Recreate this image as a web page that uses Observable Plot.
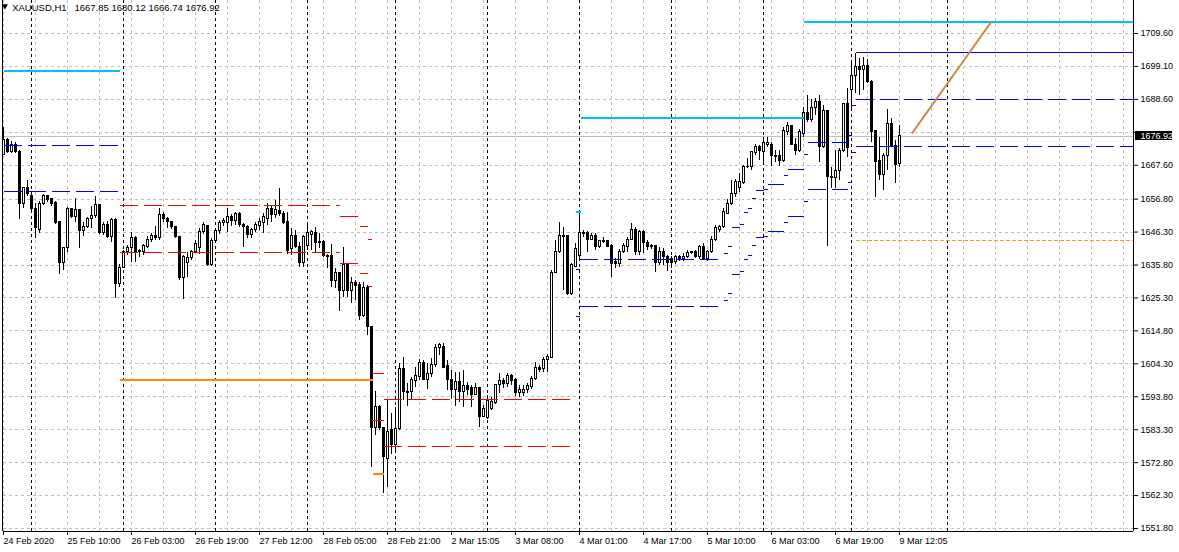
<!DOCTYPE html>
<html><head><meta charset="utf-8">
<script src="https://cdn.jsdelivr.net/npm/d3@7"></script>
<script src="https://cdn.jsdelivr.net/npm/@observablehq/plot@0.6"></script>
<style>
html,body{margin:0;padding:0;background:#fff;}
#chart{width:1179px;height:552px;overflow:hidden;}
svg{display:block;}
</style></head><body><div id="chart"></div>
<script>
// ---- header ----
const symbolTitle = "XAUUSD,H1";
const headerOHLC = ["1667.85", "1680.12", "1666.74", "1676.92"];
const currentPrice = 1676.92;

// ---- H1 candles (bar index = position) ----
const open = [1671.0,1675.8,1671.7,1674.2,1671.7,1655.4,1660.2,1657.7,1653.8,1647.1,1655.1,1657.7,1656.7,1655.7,1649.4,1636.6,1641.1,1653.5,1651.0,1653.2,1646.5,1647.8,1650.6,1651.3,1654.8,1645.9,1648.7,1644.6,1650.0,1629.6,1635.0,1639.8,1641.1,1644.3,1640.4,1640.1,1641.7,1643.9,1645.2,1644.3,1651.6,1650.6,1649.4,1647.8,1644.6,1631.8,1636.6,1637.9,1639.8,1641.1,1646.2,1648.1,1635.7,1643.6,1646.5,1649.1,1649.1,1651.0,1649.7,1652.2,1648.4,1647.8,1645.5,1647.1,1648.1,1649.1,1650.6,1653.5,1651.9,1652.9,1652.2,1649.4,1640.8,1645.2,1641.4,1636.3,1642.0,1645.5,1645.9,1643.0,1643.0,1638.8,1638.8,1630.6,1633.1,1627.4,1635.7,1627.4,1630.2,1629.3,1619.4,1628.6,1615.9,1583.7,1590.4,1583.7,1574.1,1583.1,1578.3,1583.4,1602.8,1595.2,1595.2,1598.7,1600.0,1604.7,1599.3,1601.2,1603.8,1609.5,1609.8,1603.5,1599.3,1595.8,1598.4,1595.2,1597.1,1596.5,1594.5,1596.5,1587.5,1586.9,1589.8,1591.7,1597.4,1598.7,1598.0,1600.3,1599.0,1594.9,1594.9,1595.8,1596.8,1599.6,1603.1,1602.5,1605.4,1606.3,1633.4,1639.8,1645.2,1644.9,1626.4,1635.3,1638.8,1645.9,1645.9,1643.9,1645.2,1641.7,1643.0,1643.3,1642.0,1636.6,1636.0,1639.8,1641.7,1643.9,1647.1,1640.1,1646.2,1642.7,1641.4,1641.7,1636.3,1640.1,1638.2,1637.6,1636.9,1638.2,1637.6,1638.2,1639.5,1639.8,1638.2,1641.4,1637.6,1639.8,1643.9,1647.1,1647.8,1652.2,1655.1,1658.3,1660.2,1661.8,1667.2,1667.2,1671.4,1673.3,1671.7,1674.2,1674.2,1670.7,1670.4,1669.1,1678.1,1680.0,1674.2,1672.0,1677.7,1684.4,1681.9,1686.0,1687.9,1673.3,1684.8,1664.0,1663.4,1665.9,1672.3,1687.0,1691.7,1695.9,1698.8,1698.1,1699.1,1694.0,1678.4,1668.8,1664.4,1670.7,1680.9,1673.6,1667.85];
const high = [1679.6,1676.1,1675.2,1674.9,1672.3,1660.5,1662.8,1658.0,1655.4,1656.1,1658.3,1658.0,1657.0,1656.1,1649.7,1641.4,1654.1,1653.8,1657.0,1653.5,1649.4,1651.0,1654.5,1657.7,1655.1,1649.4,1649.7,1650.6,1650.6,1636.0,1640.4,1642.0,1646.2,1644.9,1640.8,1642.4,1644.9,1645.9,1648.1,1653.8,1652.6,1651.0,1649.7,1648.1,1644.9,1638.8,1639.8,1640.4,1643.6,1647.5,1649.4,1648.4,1644.3,1647.5,1650.0,1650.6,1653.8,1651.9,1652.6,1652.6,1649.1,1648.4,1647.4,1649.4,1650.6,1652.2,1655.4,1654.8,1656.4,1660.2,1652.9,1652.6,1647.5,1646.8,1643.0,1645.2,1649.1,1646.8,1647.8,1645.9,1643.6,1639.2,1642.4,1634.7,1633.4,1641.4,1636.0,1631.8,1630.9,1630.2,1630.2,1629.3,1616.3,1595.5,1591.0,1584.0,1592.9,1588.5,1590.4,1604.4,1606.3,1598.0,1600.0,1603.1,1605.6,1605.4,1604.4,1606.0,1610.5,1610.8,1610.8,1605.4,1602.2,1601.5,1601.5,1602.2,1598.4,1597.4,1598.0,1596.8,1591.0,1594.2,1593.6,1597.7,1601.2,1599.6,1601.2,1600.9,1599.6,1597.4,1597.4,1598.0,1600.3,1604.7,1603.8,1606.3,1607.3,1634.1,1643.6,1649.4,1647.8,1645.2,1636.3,1642.7,1652.6,1646.8,1646.5,1645.9,1645.9,1643.6,1644.6,1643.6,1642.4,1637.9,1640.8,1642.7,1644.6,1649.1,1647.8,1646.8,1646.8,1643.6,1642.4,1642.0,1641.4,1641.1,1638.8,1638.5,1638.8,1638.8,1639.5,1640.4,1640.1,1640.4,1642.0,1642.7,1640.4,1644.9,1648.4,1648.4,1653.8,1656.7,1662.8,1663.1,1665.0,1667.5,1669.8,1672.0,1674.2,1673.9,1676.5,1676.5,1674.9,1672.3,1672.3,1679.6,1681.2,1680.3,1676.1,1679.0,1686.0,1689.9,1688.6,1688.9,1689.9,1686.6,1685.1,1666.9,1672.3,1673.0,1687.4,1692.0,1699.9,1703.2,1701.6,1702.1,1701.2,1694.6,1678.5,1676.6,1671.3,1685.3,1682.4,1675.5,1680.12];
const low = [1670.7,1671.4,1671.4,1671.4,1650.3,1653.8,1657.7,1653.2,1644.3,1645.9,1654.8,1655.7,1654.5,1648.7,1632.8,1634.1,1639.8,1650.6,1649.4,1641.1,1644.9,1647.5,1647.5,1650.6,1645.5,1645.2,1644.3,1643.0,1625.1,1628.6,1634.7,1638.8,1636.6,1636.6,1638.2,1638.8,1641.1,1643.0,1643.6,1643.6,1649.4,1647.5,1647.1,1644.3,1630.9,1624.8,1631.8,1637.3,1639.5,1639.2,1645.5,1635.3,1635.3,1643.0,1645.5,1648.1,1646.2,1648.1,1648.4,1647.8,1641.4,1644.3,1644.3,1646.2,1646.8,1645.9,1648.4,1649.4,1650.6,1651.3,1648.7,1639.2,1638.8,1641.1,1635.0,1635.0,1640.4,1640.4,1639.8,1641.1,1638.2,1634.7,1628.6,1628.3,1621.0,1625.4,1625.4,1623.5,1624.5,1618.1,1619.1,1613.3,1571.3,1581.5,1583.1,1563.0,1564.8,1575.4,1575.7,1583.1,1592.6,1590.7,1592.6,1596.8,1599.0,1599.0,1596.1,1600.0,1603.1,1607.0,1602.8,1595.8,1592.9,1590.7,1592.0,1590.4,1594.2,1590.4,1594.2,1584.0,1587.2,1586.6,1589.4,1591.3,1594.9,1596.5,1596.8,1597.4,1593.9,1593.6,1593.9,1594.9,1596.1,1599.0,1601.5,1601.5,1601.5,1606.0,1633.1,1639.5,1627.7,1626.1,1626.1,1635.0,1637.9,1644.6,1639.8,1643.6,1640.4,1641.1,1642.7,1641.4,1631.8,1634.7,1635.0,1639.5,1639.8,1643.6,1638.8,1638.8,1639.5,1640.4,1640.8,1633.4,1635.7,1635.7,1633.7,1634.7,1636.0,1636.9,1636.9,1637.9,1639.2,1637.9,1637.6,1637.3,1636.9,1639.5,1643.3,1646.2,1647.5,1651.9,1654.8,1657.3,1658.9,1661.5,1666.6,1665.9,1670.7,1669.1,1668.5,1673.3,1667.2,1668.5,1667.2,1668.5,1677.1,1673.9,1670.7,1671.7,1676.5,1681.2,1681.2,1683.5,1668.5,1673.0,1641.7,1660.2,1660.2,1662.8,1671.8,1670.2,1685.7,1690.5,1689.9,1691.4,1693.6,1674.7,1657.2,1662.8,1659.6,1665.9,1673.4,1661.7,1666.74];
const close = [1675.8,1671.7,1674.2,1671.7,1655.4,1660.2,1658.3,1653.5,1647.5,1655.1,1657.7,1656.4,1655.4,1649.1,1636.6,1641.1,1653.5,1651.0,1653.2,1646.5,1647.8,1650.6,1651.3,1654.8,1645.9,1648.7,1644.6,1650.0,1629.6,1635.0,1639.8,1641.1,1644.3,1639.8,1639.8,1641.7,1643.9,1645.2,1644.3,1651.6,1650.6,1649.4,1647.8,1644.6,1631.8,1638.2,1637.9,1639.8,1642.4,1646.2,1648.4,1635.7,1643.6,1646.5,1649.1,1649.7,1651.0,1649.7,1652.2,1648.4,1647.8,1645.5,1647.1,1648.4,1649.4,1651.0,1653.8,1651.6,1653.2,1652.2,1649.1,1640.4,1645.2,1641.4,1636.3,1644.6,1645.9,1646.2,1642.7,1642.7,1638.8,1638.5,1630.6,1633.1,1627.4,1635.7,1627.4,1630.2,1629.0,1619.4,1628.6,1615.9,1583.7,1590.4,1583.7,1574.5,1582.7,1578.3,1583.4,1602.8,1595.2,1594.9,1599.0,1600.3,1604.7,1599.3,1601.2,1603.8,1609.5,1610.2,1603.1,1599.0,1595.8,1598.4,1595.2,1597.1,1596.1,1594.5,1596.5,1587.5,1589.8,1592.3,1592.0,1597.4,1598.7,1598.0,1600.3,1598.7,1594.9,1596.1,1595.8,1597.1,1599.6,1603.1,1602.2,1605.4,1606.6,1633.4,1639.8,1645.2,1644.6,1626.4,1635.7,1640.8,1645.9,1645.7,1643.9,1645.2,1641.7,1643.3,1643.6,1641.7,1636.0,1636.0,1639.8,1641.7,1643.9,1647.1,1640.1,1646.2,1642.7,1641.4,1642.0,1636.3,1640.1,1638.2,1636.6,1636.6,1638.2,1637.6,1638.2,1639.5,1639.8,1638.2,1641.4,1637.6,1639.8,1643.9,1647.5,1647.8,1652.6,1655.1,1658.3,1662.1,1662.1,1667.2,1666.9,1671.7,1673.3,1672.0,1674.6,1674.6,1670.7,1670.1,1669.1,1678.4,1680.0,1674.2,1672.0,1678.1,1684.4,1681.9,1686.0,1687.9,1673.3,1684.8,1663.7,1663.4,1665.9,1672.3,1687.0,1673.2,1695.9,1698.8,1698.1,1699.1,1694.0,1678.1,1668.5,1664.4,1670.7,1680.9,1673.6,1667.8,1676.92];

// ---- axes ----
const timeTickIdx = [0,16,32,48,64,80,96,112,128,144,160,176,192,208,224];
const timeTickLabels = ["24 Feb 2020","25 Feb 10:00","26 Feb 03:00","26 Feb 19:00","27 Feb 12:00","28 Feb 05:00","28 Feb 21:00","2 Mar 15:05","3 Mar 08:00","4 Mar 01:00","4 Mar 17:00","5 Mar 10:00","6 Mar 03:00","6 Mar 19:00","9 Mar 12:05"];
const priceTicks = [1709.6,1699.1,1688.6,1678.1,1667.6,1656.8,1646.3,1635.8,1625.3,1614.8,1604.3,1593.8,1583.3,1572.8,1562.3,1551.8];
const hiddenPriceLabel = 1678.1; // covered by the current-price box
const gridBarStep = 8;
const daySeparators = [7,30,53,76,98,121,144,167,190,212,236];

// ---- pivot-like level segments (bar index from..to, upper / lower price) ----
const levelFrom  = [0,29,84,89,91,92,95,143,144,180,181,182,184,185,186,187,188,190,191,195,196,200,201,211,212,213];
const levelTo    = [28.5,84,89,91,92,95,141.75,144,179.75,181,182,184,185,186,187,188,190,191,195,196,200,201,211,212,213,282.5];
const levelUpper = [1674.05,1654.93,1651.26,1648.07,1643.83,1601.11,1592.82,1634.27,1637.45,1639.37,1641.60,1647.66,1648.61,1652.44,1653.71,1656.90,1659.45,1659.77,1661.37,1664.23,1666.15,1670.93,1674.75,1676.99,1686.55,1688.46];
const levelLower = [1659.23,1639.94,1636.18,1632.99,1628.85,1586.22,1577.84,1619.28,1622.47,1624.38,1626.62,1632.67,1633.63,1637.45,1638.73,1641.92,1644.47,1644.79,1646.38,1649.25,1651.16,1655.95,1659.77,1662.00,1671.57,1673.48];
const levelColor = ["blue","red","red","red","red","red","red","blue","blue","blue","blue","blue","blue","blue","blue","blue","blue","blue","blue","blue","blue","blue","blue","blue","blue","blue"];

// ---- thick horizontal lines ----
const thickFrom  = [0,29,92.25,143,144.25,200];
const thickTo    = [29,92.25,95,144.25,200,282.5];
const thickPrice = [1697.80,1599.30,1569.33,1652.85,1682.82,1713.11];
const thickColor = ["#00BFFF","#FF8C00","#FF8C00","#00BFFF","#00BFFF","#00BFFF"];

// ---- other objects ----
const blueLine = {from: 213, to: 282.5, price: 1703.45};
const dottedLine = {from: 213, to: 282.5, price: 1643.51};
const trendLine = {i1: 227.1, p1: 1677.72, i2: 247, p2: 1713.43};

const xDomain = [0, 282.5];
const yDomain = [1550.85, 1720.12];

// ---- build ----
const bars = open.map((o, i) => ({i, o, h: high[i], l: low[i], c: close[i]}));
const levels = levelFrom.map((f, k) => ({f, t: levelTo[k], u: levelUpper[k], lo: levelLower[k], color: levelColor[k]}));
const thick = thickFrom.map((f, k) => ({f, t: thickTo[k], p: thickPrice[k], color: thickColor[k]}));
const labelOf = new Map(timeTickIdx.map((t, k) => [t, timeTickLabels[k]]));
const gridX = d3.range(0, 281, gridBarStep);
const nb = "\u00a0";
const headerText = symbolTitle + nb + nb + nb + headerOHLC.join(nb);
const crisp = {shapeRendering: "crispEdges"};

const chart = Plot.plot({
  width: 1179, height: 552,
  marginLeft: 3, marginRight: 46, marginTop: 0, marginBottom: 21,
  style: {fontFamily: "'Liberation Sans', Arial, sans-serif", fontSize: "9px", background: "white", color: "black"},
  x: {domain: xDomain, axis: null},
  y: {domain: yDomain, axis: null},
  color: {type: "identity"},
  marks: [
    Plot.gridY(priceTicks, {stroke: "#c0c0c0", strokeOpacity: 1, strokeDasharray: "3,3", ...crisp}),
    Plot.gridX(gridX, {stroke: "#c0c0c0", strokeOpacity: 1, strokeDasharray: "3,3", ...crisp}),
    Plot.ruleX(daySeparators, {stroke: "black", strokeDasharray: "3,3", ...crisp}),
    Plot.ruleY([currentPrice], {stroke: "#c0c0c0", ...crisp}),
    // candles
    Plot.ruleX(bars, {x: "i", y1: "l", y2: "h", stroke: "black", ...crisp}),
    Plot.rect(bars.filter(d => d.c >= d.o), {x1: "i", x2: "i", y1: "o", y2: "c", insetLeft: -1, insetRight: -1, insetTop: -0.01, fill: "white", stroke: "black", ...crisp}),
    Plot.rect(bars.filter(d => d.c < d.o), {x1: "i", x2: "i", y1: "o", y2: "c", insetLeft: -1, insetRight: -1, insetTop: -0.01, fill: "black", stroke: "black", ...crisp}),
    // levels
    Plot.link(levels, {x1: "f", x2: "t", y1: "u", y2: "u", stroke: "color", strokeDasharray: "18,6", ...crisp}),
    Plot.link(levels, {x1: "f", x2: "t", y1: "lo", y2: "lo", stroke: "color", strokeDasharray: "18,6", ...crisp}),
    Plot.link(thick, {x1: "f", x2: "t", y1: "p", y2: "p", stroke: "color", strokeWidth: 2, ...crisp}),
    Plot.link([blueLine], {x1: "from", x2: "to", y1: "price", y2: "price", stroke: "blue", ...crisp}),
    Plot.link([dottedLine], {x1: "from", x2: "to", y1: "price", y2: "price", stroke: "#DAA520", strokeDasharray: "4,2", ...crisp}),
    Plot.link([trendLine], {x1: "i1", y1: "p1", x2: "i2", y2: "p2", stroke: "#CD853F", strokeWidth: 2}),
    // borders
    Plot.ruleX([-0.25, xDomain[1]], {stroke: "black", ...crisp}),
    Plot.ruleY([yDomain[0]], {stroke: "black", ...crisp}),
    // axes
    Plot.axisX(timeTickIdx, {anchor: "bottom", tickSize: 4, tickPadding: 2.5, tickFormat: d => labelOf.get(d), textAnchor: "start", fontSize: 9}),
    Plot.axisY(priceTicks, {anchor: "right", tickSize: 4, tickPadding: 3, tickFormat: d => (d === hiddenPriceLabel ? "" : d.toFixed(2)), fontSize: 9}),
    // current price box
    Plot.rect([currentPrice], {x1: () => xDomain[1], x2: () => xDomain[1], y1: d => d, y2: d => d, insetLeft: 2, insetRight: -39, insetTop: -4.5, insetBottom: -4.5, fill: "black", ...crisp}),
    Plot.text([currentPrice], {x: () => xDomain[1], y: d => d, text: d => d.toFixed(2), dx: 7, textAnchor: "start", fill: "white", fontSize: 9}),
    // header
    Plot.dot([0], {frameAnchor: "top-left", symbol: "triangle", rotate: 180, r: 2.2, fill: "black", dx: 1.5, dy: 5.5}),
    Plot.text([headerText], {frameAnchor: "top-left", text: d => d, textAnchor: "start", lineAnchor: "top", dx: 8.7, dy: 4, fontSize: 9.5, fill: "black"})
  ]
});
document.getElementById("chart").appendChild(chart);
</script>
</body></html>
